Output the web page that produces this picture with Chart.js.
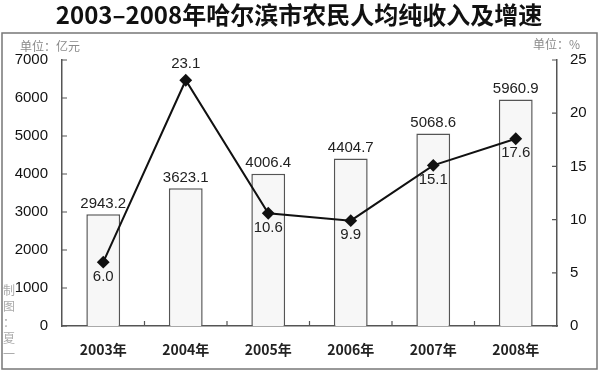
<!DOCTYPE html>
<html lang="zh-CN">
<head>
<meta charset="UTF-8">
<title>2003-2008年哈尔滨市农民人均纯收入及增速</title>
<script src="https://cdn.jsdelivr.net/npm/chart.js@4/dist/chart.umd.min.js"></script>
<style>
  html, body { margin: 0; padding: 0; background: #fff; }
  #wrap { width: 600px; height: 372px; position: relative; }
</style>
</head>
<body>
<div id="wrap"><canvas id="c"></canvas></div>
<script>
// data
const years = ['2003年', '2004年', '2005年', '2006年', '2007年', '2008年'];
const income = [2943.2, 3623.1, 4006.4, 4404.7, 5068.6, 5960.9];   // 亿元 (left axis)
const growth = [6.0, 23.1, 10.6, 9.9, 15.1, 17.6];                 // % (right axis)
const growthLabelAbove = [false, true, false, false, false, false];

const titleText = '2003–2008年哈尔滨市农民人均纯收入及增速';
const leftUnit = '单位：亿元';
const rightUnit = '单位：%';
const credit = ['制', '图', '：', '夏', '一'];

const PLOT = { left: 62, right: 557, top: 60, bottom: 326 };
const numFont = '"Liberation Sans", Arial, sans-serif';
const cjkFont = '"Noto Sans CJK SC", sans-serif';

// frame, title, unit text, inward ticks, value labels
const decor = {
  id: 'decor',
  beforeDraw(chart) {
    const ctx = chart.ctx;
    ctx.save();
    ctx.fillStyle = '#fff';
    ctx.fillRect(0, 0, chart.width, chart.height);
    ctx.fillStyle = '#111';
    ctx.font = 'bold 24px ' + cjkFont;
    ctx.textAlign = 'center';
    ctx.textBaseline = 'middle';
    ctx.fillText(titleText, 299, 15);

    ctx.strokeStyle = '#777';
    ctx.lineWidth = 1.5;
    ctx.strokeRect(2, 33, 595, 336);

    ctx.fillStyle = '#8a8a8a';
    ctx.font = '12px ' + cjkFont;
    ctx.textAlign = 'left';
    ctx.fillText(leftUnit, 20, 46);
    ctx.fillText(rightUnit, 533, 44);

    ctx.fillStyle = '#aaa';
    ctx.font = '12px ' + cjkFont;
    ctx.textAlign = 'center';
    credit.forEach((ch, i) => ctx.fillText(ch, 9, 290 + i * 16));
    ctx.restore();
  },
  afterDraw(chart) {
    const ctx = chart.ctx;
    const { x, y, y1 } = chart.scales;
    ctx.save();
    ctx.strokeStyle = '#555';
    ctx.lineWidth = 1.2;
    ctx.beginPath();
    y.ticks.forEach(t => {
      const py = y.getPixelForValue(t.value);
      ctx.moveTo(PLOT.left, py); ctx.lineTo(PLOT.left + 5, py);
    });
    y1.ticks.forEach(t => {
      const py = y1.getPixelForValue(t.value);
      ctx.moveTo(PLOT.right, py); ctx.lineTo(PLOT.right - 5, py);
    });
    for (let i = 1; i < years.length; i++) {
      const px = (x.getPixelForValue(i - 1) + x.getPixelForValue(i)) / 2;
      ctx.moveTo(px, PLOT.bottom); ctx.lineTo(px, PLOT.bottom - 5);
    }
    ctx.stroke();

    ctx.fillStyle = '#222';
    ctx.font = '15px ' + numFont;
    ctx.textAlign = 'center';
    // dataset 1 = bars, dataset 0 = line
    ctx.textBaseline = 'bottom';
    chart.getDatasetMeta(1).data.forEach((bar, i) => {
      ctx.fillText(income[i].toFixed(1), bar.x, bar.y - 3);
    });
    chart.getDatasetMeta(0).data.forEach((pt, i) => {
      if (growthLabelAbove[i]) {
        ctx.textBaseline = 'bottom';
        ctx.fillText(growth[i].toFixed(1), pt.x, pt.y - 9);
      } else {
        ctx.textBaseline = 'top';
        ctx.fillText(growth[i].toFixed(1), pt.x, pt.y + 7);
      }
    });
    ctx.restore();
  }
};

new Chart(document.getElementById('c'), {
  data: {
    labels: years,
    datasets: [
      {
        type: 'line',
        label: '增速',
        data: growth,
        yAxisID: 'y1',
        borderColor: '#111',
        borderWidth: 2,
        pointStyle: 'rectRot',
        pointRadius: 5,
        pointBackgroundColor: '#111',
        pointBorderColor: '#111',
        tension: 0,
        order: 0
      },
      {
        type: 'bar',
        label: '人均纯收入',
        data: income,
        yAxisID: 'y',
        backgroundColor: '#f7f7f7',
        borderColor: '#555',
        borderWidth: 1.5,
        categoryPercentage: 1,
        barPercentage: 0.41,
        order: 1
      }
    ]
  },
  options: {
    responsive: true,
    maintainAspectRatio: false,
    animation: false,
    layout: { padding: { top: PLOT.top, left: 0, right: 0, bottom: 0 } },
    plugins: {
      legend: { display: false },
      tooltip: { enabled: false }
    },
    scales: {
      x: {
        grid: { display: false, drawTicks: false },
        border: { color: '#555', width: 1.5 },
        ticks: { color: '#222', padding: 15, font: { family: cjkFont, size: 14, weight: 'bold' } },
        afterFit: s => { s.height = 372 - PLOT.bottom; }
      },
      y: {
        position: 'left',
        min: 0, max: 7000,
        ticks: { stepSize: 1000, color: '#111', padding: 14, font: { family: numFont, size: 15 },
                 callback: v => String(v) },
        grid: { display: false, drawTicks: false },
        border: { color: '#555', width: 1.5 },
        afterFit: s => { s.width = PLOT.left; }
      },
      y1: {
        position: 'right',
        min: 0, max: 25,
        ticks: { stepSize: 5, color: '#111', padding: 13, font: { family: numFont, size: 15 },
                 callback: v => String(v) },
        grid: { display: false, drawTicks: false },
        border: { color: '#555', width: 1.5 },
        afterFit: s => { s.width = 600 - PLOT.right; }
      }
    }
  },
  plugins: [decor]
});
</script>
</body>
</html>
